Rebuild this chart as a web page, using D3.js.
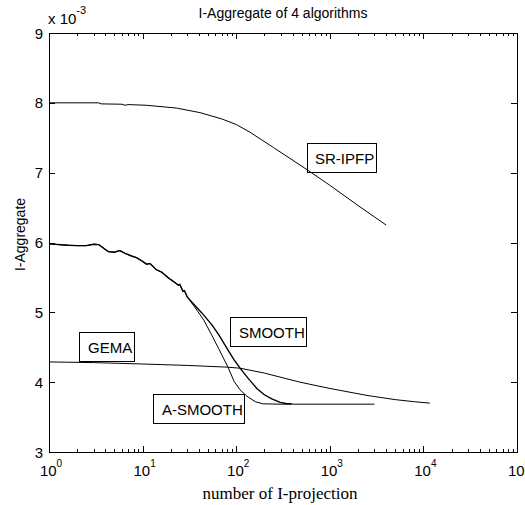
<!DOCTYPE html>
<html>
<head>
<meta charset="utf-8">
<script src="https://cdn.jsdelivr.net/npm/d3@7"></script>
<style>
  body { margin: 0; background: #fff; }
  svg { display: block; }
</style>
</head>
<body>
<svg id="chart" width="525" height="505"></svg>
<script>
// I-Aggregate of 4 algorithms — log x, values in units of 1e-3

const xDecades = [1, 10, 100, 1000, 10000, 100000];
const xExponents = ["0", "1", "2", "3", "4", "5"];
const yTicks = [3, 4, 5, 6, 7, 8, 9];

const srIpfp = [
  [1, 8.0], [3.4, 8.0], [3.6, 7.985], [6, 7.98], [6.5, 7.965], [7, 7.975], [11, 7.965],
  [23, 7.925], [41, 7.86], [70, 7.77], [100, 7.69], [140, 7.58], [250, 7.36],
  [575, 7.04], [1000, 6.82], [2000, 6.53], [4000, 6.25],
];
const aSmooth = [
  [1, 5.98], [1.6, 5.96], [2, 5.955], [2.5, 5.955], [3, 5.975], [3.4, 5.97], [4.3, 5.87],
  [5, 5.86], [5.7, 5.885], [6.5, 5.845], [7.5, 5.81], [8.7, 5.78], [10, 5.73], [11, 5.69],
  [12, 5.70], [14, 5.61], [16, 5.575], [19, 5.49], [22, 5.43], [24, 5.39], [25, 5.40],
  [27, 5.30], [28, 5.31], [30, 5.22], [35, 5.10], [39, 5.01], [45, 4.89], [55, 4.67],
  [65, 4.48], [82, 4.21], [95, 4.01], [110, 3.89], [130, 3.80], [160, 3.72], [192, 3.69],
  [300, 3.685], [3000, 3.685],
];
const smooth = [
  [1, 5.98], [1.6, 5.96], [2, 5.955], [2.5, 5.955], [3, 5.975], [3.4, 5.97], [4.3, 5.87],
  [5, 5.86], [5.7, 5.885], [6.5, 5.845], [7.5, 5.81], [8.7, 5.78], [10, 5.73], [11, 5.69],
  [12, 5.70], [14, 5.61], [16, 5.575], [19, 5.49], [22, 5.43], [24, 5.39], [25, 5.40],
  [27, 5.30], [28, 5.31], [30, 5.22], [35, 5.12], [39, 5.05], [45, 4.96], [55, 4.82],
  [65, 4.68], [80, 4.48], [95, 4.32], [110, 4.2], [135, 4.05], [166, 3.91], [200, 3.82],
  [240, 3.76], [295, 3.71], [340, 3.695], [390, 3.69],
];
const gema = [
  [1, 4.29], [3, 4.28], [10, 4.26], [30, 4.24], [80, 4.215], [110, 4.2], [200, 4.13],
  [480, 4.0], [1000, 3.91], [2500, 3.81], [5000, 3.75], [8000, 3.72], [11700, 3.70],
];

const seriesList = [
  { name: "SR-IPFP", pts: srIpfp, width: 1 },
  { name: "GEMA", pts: gema, width: 1 },
  { name: "A-SMOOTH", pts: aSmooth, width: 1 },
  { name: "SMOOTH", pts: smooth, width: 1.4 },
];

// text labels placed in data coordinates (left edge of text, baseline)
const labels = [
  { text: "SR-IPFP", x: 695, y: 7.12 },
  { text: "SMOOTH", x: 107, y: 4.63 },
  { text: "GEMA", x: 2.61, y: 4.415 },
  { text: "A-SMOOTH", x: 16.1, y: 3.527 },
];

const L = 49, R = 517, T = 33, B = 452;
const SANS = "Arial, 'Liberation Sans', Helvetica, sans-serif";

const svg = d3.select("#chart");
const x = d3.scaleLog().domain([1, 1e5]).range([L, R]);
const y = d3.scaleLinear().domain([3, 9]).range([B, T]);

const minors = [];
for (let d = 1; d < 1e5; d *= 10) for (let k = 2; k <= 9; k++) minors.push(d * k);

const styleAxis = (s) => {
  s.select(".domain").remove();
  s.selectAll("line").attr("stroke", "#000").attr("shape-rendering", "crispEdges");
  s.selectAll("text").remove();
};

svg.append("g").attr("transform", `translate(0,${B})`)
  .call(d3.axisBottom(x).tickValues(xDecades).tickSize(-6)).call(styleAxis);
svg.append("g").attr("transform", `translate(0,${B})`)
  .call(d3.axisBottom(x).tickValues(minors).tickSize(-3)).call(styleAxis);
svg.append("g").attr("transform", `translate(0,${T})`)
  .call(d3.axisTop(x).tickValues(xDecades).tickSize(-6)).call(styleAxis);
svg.append("g").attr("transform", `translate(0,${T})`)
  .call(d3.axisTop(x).tickValues(minors).tickSize(-3)).call(styleAxis);
svg.append("g").attr("transform", `translate(${L},0)`)
  .call(d3.axisLeft(y).tickValues(yTicks).tickSize(-6)).call(styleAxis);
svg.append("g").attr("transform", `translate(${R},0)`)
  .call(d3.axisRight(y).tickValues(yTicks).tickSize(-6)).call(styleAxis);

svg.append("rect")
  .attr("x", L).attr("y", T).attr("width", R - L).attr("height", B - T)
  .attr("fill", "none").attr("stroke", "#000").attr("shape-rendering", "crispEdges");

// y tick labels
svg.append("g").selectAll("text").data(yTicks).enter().append("text")
  .attr("x", L - 6).attr("y", (d) => y(d) + 5.5)
  .attr("text-anchor", "end")
  .style("font", `15px ${SANS}`).style("fill", "#000")
  .text((d) => d);

// x tick labels: 10 with superscript
const xl = svg.append("g").selectAll("text").data(xDecades).enter().append("text")
  .attr("x", (d) => x(d) + 2).attr("y", 476)
  .attr("text-anchor", "middle")
  .style("font", `15px ${SANS}`).style("fill", "#000");
xl.append("tspan").text("10");
xl.append("tspan").attr("dy", -9).style("font-size", "10px").text((d, i) => xExponents[i]);

// exponent note
const ex = svg.append("text").attr("x", 48).attr("y", 24)
  .style("font", `15px ${SANS}`).style("fill", "#000");
ex.append("tspan").text("x 10");
ex.append("tspan").attr("dy", -10).style("font-size", "11px").text("-3");

svg.append("text").attr("x", (L + R) / 2).attr("y", 18)
  .attr("text-anchor", "middle")
  .style("font", `14px ${SANS}`).style("fill", "#000")
  .text("I-Aggregate of 4 algorithms");

svg.append("text").attr("x", (L + R) / 2 - 3).attr("y", 499)
  .attr("text-anchor", "middle")
  .style("font", "17px 'Liberation Serif', 'Times New Roman', serif").style("fill", "#000")
  .text("number of I-projection");

svg.append("text")
  .attr("transform", `translate(25,${(T + B) / 2 - 8}) rotate(-90)`)
  .attr("text-anchor", "middle")
  .style("font", `14px ${SANS}`).style("fill", "#000")
  .text("I-Aggregate");

// curves
const line = d3.line().x((d) => x(d[0])).y((d) => y(d[1]));
svg.append("g").selectAll("path").data(seriesList).enter().append("path")
  .attr("d", (d) => line(d.pts))
  .attr("fill", "none").attr("stroke", "#000")
  .attr("stroke-width", (d) => d.width);

// boxed labels
const lg = svg.append("g").selectAll("g").data(labels).enter().append("g");
lg.append("text")
  .attr("x", (d) => x(d.x)).attr("y", (d) => y(d.y))
  .style("font", `15px ${SANS}`).style("fill", "#000")
  .text((d) => d.text);
lg.each(function (d) {
  const g = d3.select(this);
  const w = g.select("text").node().getComputedTextLength();
  g.insert("rect", "text")
    .attr("x", x(d.x) - 8).attr("y", y(d.y) - 21)
    .attr("width", w + 10).attr("height", 29)
    .attr("fill", "none").attr("stroke", "#000").attr("shape-rendering", "crispEdges");
});
</script>
</body>
</html>
